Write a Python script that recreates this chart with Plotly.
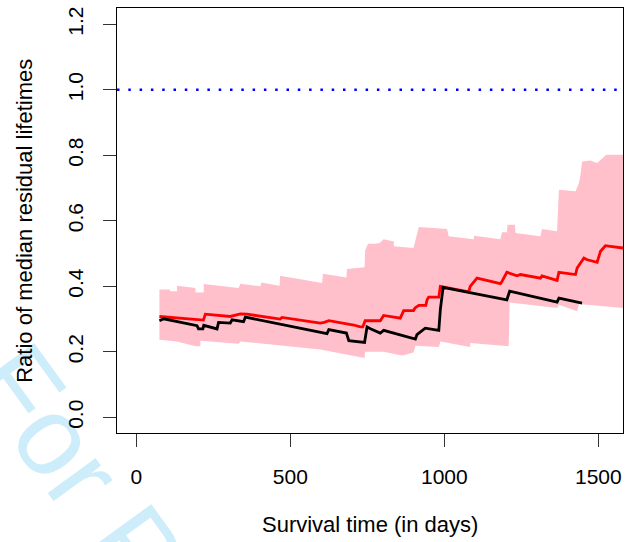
import plotly.graph_objects as go

# ---- data ----
upper_x = [75, 110, 110, 132, 132, 192, 192, 219, 219, 332, 338, 403, 406, 465, 467, 603, 606, 682, 684,
           741, 743, 752, 776, 790, 803, 836, 836, 900, 917, 1009, 1014, 1095, 1097, 1182, 1187, 1203,
           1205, 1229, 1231, 1312, 1317, 1366, 1372, 1426, 1437, 1442, 1447, 1474, 1496, 1526, 1580]
upper_y = [0.390, 0.390, 0.385, 0.385, 0.402, 0.395, 0.381, 0.381, 0.407, 0.395, 0.408, 0.400, 0.412,
           0.402, 0.432, 0.410, 0.4385, 0.427, 0.453, 0.458, 0.510, 0.530, 0.530, 0.532, 0.544, 0.537,
           0.522, 0.517, 0.581, 0.575, 0.5525, 0.544, 0.5545, 0.544, 0.565, 0.565, 0.588, 0.588, 0.5626,
           0.5525, 0.575, 0.568, 0.695, 0.690, 0.715, 0.740, 0.781, 0.784, 0.776, 0.8016, 0.8016]

lower_x = [75, 132, 137, 192, 208, 208, 332, 338, 597, 741, 743, 803, 857, 868, 900, 906, 982, 987,
           1084, 1084, 1209, 1212, 1366, 1372, 1431, 1437, 1580]
lower_y = [0.237, 0.232, 0.229, 0.217, 0.217, 0.234, 0.225, 0.232, 0.207, 0.181, 0.200, 0.200, 0.190,
           0.190, 0.198, 0.219, 0.2147, 0.232, 0.2147, 0.227, 0.217, 0.351, 0.334, 0.344, 0.3236, 0.346,
           0.334]

red_x = [75, 207, 218, 224, 305, 338, 359, 467, 473, 597, 610, 625, 706, 727, 735, 743, 792, 803, 857,
         868, 900, 905, 917, 940, 944, 949, 982, 987, 1079, 1084, 1106, 1182, 1187, 1203, 1236, 1247,
         1312, 1317, 1366, 1372, 1426, 1431, 1442, 1453, 1464, 1496, 1507, 1523, 1539, 1580]
red_y = [0.308, 0.296, 0.297, 0.315, 0.308, 0.316, 0.315, 0.300, 0.305, 0.288, 0.290, 0.295, 0.282,
         0.276, 0.276, 0.295, 0.295, 0.311, 0.303, 0.326, 0.326, 0.334, 0.342, 0.342, 0.359, 0.367,
         0.367, 0.400, 0.383, 0.400, 0.425, 0.408, 0.415, 0.443, 0.432, 0.436, 0.425, 0.432, 0.418,
         0.443, 0.436, 0.456, 0.473, 0.486, 0.481, 0.473, 0.507, 0.524, 0.522, 0.517]

black_x = [75, 89, 197, 202, 216, 219, 262, 267, 305, 311, 348, 354, 619, 625, 682, 690, 741, 749, 760,
           792, 803, 906, 911, 938, 982, 987, 996, 1203, 1212, 1366, 1372, 1447]
black_y = [0.295, 0.301, 0.280, 0.270, 0.270, 0.281, 0.270, 0.290, 0.288, 0.298, 0.292, 0.306, 0.2555,
           0.268, 0.2575, 0.234, 0.229, 0.276, 0.2707, 0.2575, 0.2655, 0.239, 0.2524, 0.2725, 0.2655,
           0.329, 0.397, 0.359, 0.385, 0.352, 0.364, 0.349]

ref_y = 1.0
x_ticks = [0, 500, 1000, 1500]
y_ticks = [0.0, 0.2, 0.4, 0.6, 0.8, 1.0, 1.2]
y_tick_text = ["0.0", "0.2", "0.4", "0.6", "0.8", "1.0", "1.2"]
x_title = "Survival time (in days)"
y_title = "Ratio of median residual lifetimes"
watermark = "For Peer Review"

FONT = "Liberation Sans, Arial, Helvetica, sans-serif"

fig = go.Figure()

# confidence band polygon
fig.add_trace(go.Scatter(
    x=upper_x + lower_x[::-1], y=upper_y + lower_y[::-1],
    mode="lines", fill="toself", fillcolor="#FFC0CB",
    line=dict(width=0, color="#FFC0CB"), hoverinfo="skip", showlegend=False))

fig.add_trace(go.Scatter(x=red_x, y=red_y, mode="lines",
                         line=dict(color="#FF0000", width=2.8), showlegend=False))
fig.add_trace(go.Scatter(x=black_x, y=black_y, mode="lines",
                         line=dict(color="#000000", width=2.8), showlegend=False))

fig.add_shape(type="line", xref="paper", yref="y", x0=0, x1=1, y0=ref_y, y1=ref_y,
              line=dict(color="#0000FF", width=2.5, dash="2.5px,8.8px"))

# watermark drawn beneath the axes (as a label of an invisible, paper-referenced line)
wm_cx, wm_cy = 0.266, -0.603
wm_dx, wm_dy = 0.1162, 0.1904
fig.add_shape(type="line", xref="paper", yref="paper", layer="below",
              x0=wm_cx - wm_dx, y0=wm_cy + wm_dy, x1=wm_cx + wm_dx, y1=wm_cy - wm_dy,
              line=dict(color="rgba(0,0,0,0)", width=1),
              label=dict(text=watermark, textposition="middle", textangle=54,
                         xanchor="center", yanchor="middle", padding=0,
                         font=dict(family=FONT, size=112, color="#CDEDFA")))

axis_common = dict(showgrid=False, zeroline=False, showline=True, mirror=True,
                   linecolor="black", linewidth=1, ticks="outside", ticklen=13,
                   tickwidth=1, tickcolor="#333333",
                   tickfont=dict(family=FONT, size=21, color="black"))

fig.update_xaxes(range=[-62.7, 1580], tickvals=x_ticks, ticklabelstandoff=12, **axis_common)
fig.update_yaxes(range=[-0.0476, 1.2494], tickvals=y_ticks, ticktext=y_tick_text,
                 tickangle=-90, ticklabelstandoff=12, **axis_common)

fig.add_annotation(text=x_title, xref="paper", yref="paper", x=0.5, y=-0.2158,
                   xanchor="center", yanchor="middle", showarrow=False,
                   font=dict(family=FONT, size=22, color="black"))
fig.add_annotation(text=y_title, xref="paper", yref="paper", x=-0.1832, y=0.5,
                   xanchor="center", yanchor="middle", showarrow=False, textangle=-90,
                   font=dict(family=FONT, size=22, color="black"))

fig.update_layout(width=629, height=542, margin=dict(l=117, r=6, t=8, b=109),
                  paper_bgcolor="white", plot_bgcolor="rgba(0,0,0,0)",
                  showlegend=False)

fig.write_html("out.html")
